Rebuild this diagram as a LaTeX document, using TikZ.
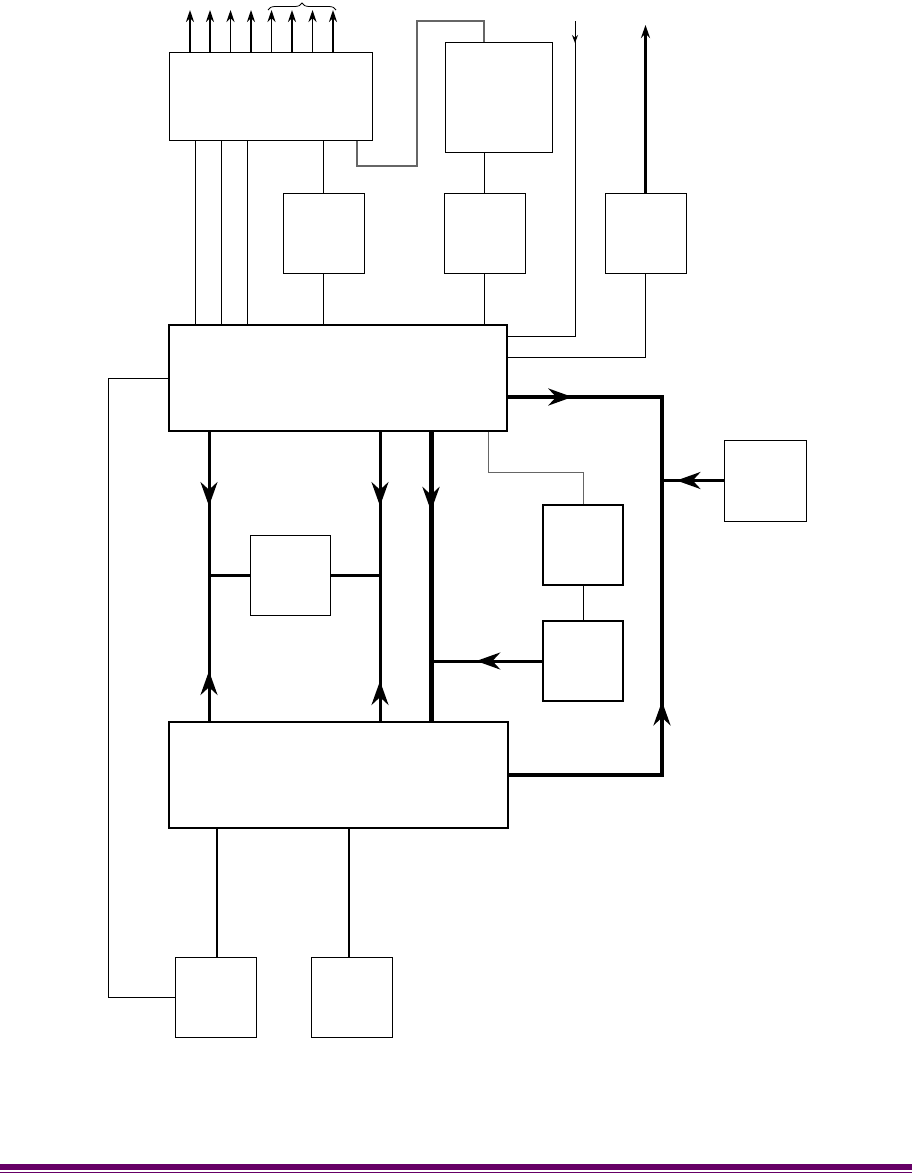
\documentclass[tikz,border=0pt]{standalone}
\usetikzlibrary{arrows.meta,decorations.markings,decorations.pathreplacing}
\definecolor{barpurple}{RGB}{102,0,102}

\begin{document}
\begin{tikzpicture}[x=1pt, y=-1pt,
  blk/.style={draw, rectangle, inner sep=0pt, line width=1pt},
  wire/.style={line width=1pt},
  greywire/.style={line width=1.3pt, draw=black!60},
  buswire/.style={line width=3pt},
  fatwire/.style={line width=5pt},
  tipfwd/.style={postaction={decorate, decoration={markings,
      mark=at position #1 with {\arrow{Stealth[length=24pt, width=17pt]}}}}},
  tipback/.style={postaction={decorate, decoration={markings,
      mark=at position #1 with {\arrowreversed{Stealth[length=24pt, width=17pt]}}}}},
  tipsmall/.style={postaction={decorate, decoration={markings,
      mark=at position #1 with {\arrow{Stealth[length=8pt, width=6pt]}}}}}]

\useasboundingbox (0,0) rectangle (912,1173);

\node [blk, minimum width=203pt, minimum height=88pt] (portblk) at (270.5,96) {};
\node [blk, minimum width=107pt, minimum height=110pt] (auxblk) at (498.5,97) {};

\node [blk, minimum width=81pt, minimum height=80pt] (drvA) at (323.5,233) {};
\node [blk, minimum width=81pt, minimum height=80pt] (drvB) at (484.5,233) {};
\node [blk, minimum width=81pt, minimum height=80pt] (drvC) at (645.5,233) {};

\node [blk, line width=2pt, minimum width=338pt, minimum height=106pt] (core) at (338,378) {};

\node [blk, minimum width=82pt, minimum height=81pt] (sideblk) at (765,480.5) {};
\node [blk, minimum width=80pt, minimum height=80pt] (midblk) at (290,575) {};
\node [blk, line width=1.5pt, minimum width=80pt, minimum height=80pt] (subA) at (583,545) {};
\node [blk, line width=1.5pt, minimum width=80pt, minimum height=80pt] (subB) at (583,661) {};

\node [blk, line width=1.3pt, minimum width=339pt, minimum height=106pt] (memblk) at (338.5,775) {};

\node [blk, minimum width=81pt, minimum height=80pt] (botA) at (215.5,997) {};
\node [blk, minimum width=81pt, minimum height=80pt] (botB) at (351.5,997) {};

\coordinate (topedge) at (0,10);
\coordinate (inlet) at (575,21);
\coordinate (outlet) at (644,25);

\foreach \px/\lw in {190/2, 210/1.3, 230.5/1.3, 251/1.3, 271.5/1.3, 292/2, 312.5/1.3, 333/2}
  \draw [line width=\lw pt, -{Stealth[length=12pt, width=8pt]}] (\px,0 |- portblk.north) -- (\px,0 |- topedge);

\draw [decorate, decoration={brace, amplitude=7pt}, line width=0.8pt] (268,10) -- (336,10);

\foreach \px in {195,221,247}
  \draw [wire] (\px,0 |- portblk.south) -- (\px,0 |- core.north);

\draw [wire] (drvA.north |- portblk.south) -- (drvA.north);
\draw [wire] (drvA.south) -- (drvA.south |- core.north);

\draw [greywire] (357,0 |- portblk.south) -- (357,166) -- (417,166) -- (417,21) -- (484,21) -- (484,0 |- auxblk.north);
\draw [wire] (auxblk.south -| drvB.north) -- (drvB.north);
\draw [wire] (drvB.south) -- (drvB.south |- core.north);

\draw [wire, tipsmall=22pt] (inlet) -- (inlet |- 0,336) -- (core.east |- 0,336);
\draw [line width=2.5pt, -{Stealth[length=13pt, width=9pt]}] (drvC.north) -- (drvC.north |- outlet);
\draw [wire] (drvC.south) |- (core.east |- 0,357);

\draw [wire] (core.west) -- (108,378) |- (botA.west);

\draw [buswire, line width=3.5pt, tipfwd=227pt, tipback=621pt] (memblk.east) -- (662,775) -- (662,397) -- (core.east |- 0,397);
\draw [buswire, tipfwd=47pt] (sideblk.west) -- (662,0 |- sideblk.west);

\draw [buswire, tipfwd=74pt, tipback=239pt] (209,0 |- core.south) -- (209,0 |- memblk.north);
\draw [buswire, tipfwd=74pt, tipback=249pt] (380,0 |- core.south) -- (380,0 |- memblk.north);
\draw [fatwire, tipfwd=79pt] (431,0 |- core.south) -- (431,0 |- memblk.north);

\draw [buswire] (209,0 |- midblk.west) -- (midblk.west);
\draw [buswire] (midblk.east) -- (380,0 |- midblk.east);

\draw [greywire, line width=1pt] (488,0 |- core.south) |- (583,472) -- (subA.north);
\draw [wire] (subA.south) -- (subB.north);
\draw [buswire, tipfwd=66pt] (subB.west) -- (431,0 |- subB.west);

\draw [line width=2pt] (217,0 |- memblk.south) -- (217,0 |- botA.north);
\draw [line width=2pt] (349,0 |- memblk.south) -- (349,0 |- botB.north);

\fill [barpurple] (0,1164) rectangle (912,1170);
\fill [barpurple] (0,1171.8) rectangle (912,1173);

\end{tikzpicture}
\end{document}
